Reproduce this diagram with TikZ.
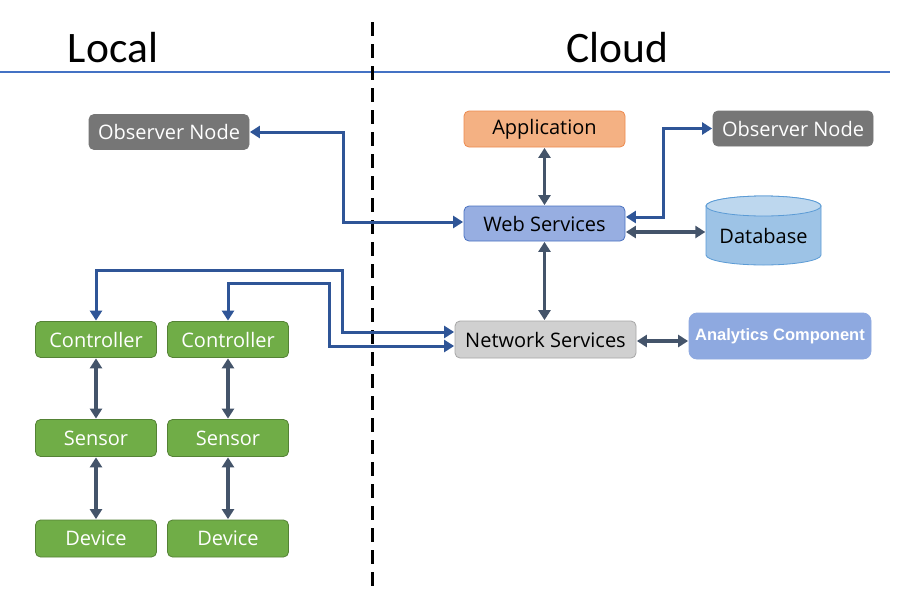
\documentclass[tikz,border=0pt]{standalone}
\usepackage{fontspec}
\setmainfont{Open Sans}
\newfontfamily\hdfont{Carlito}
\newfontfamily\arfont{Liberation Sans}
\usetikzlibrary{arrows.meta,calc}
\definecolor{obsgray}{HTML}{767676}
\definecolor{appfill}{HTML}{F4B183}
\definecolor{appdraw}{HTML}{ED8A4F}
\definecolor{webfill}{HTML}{97AEE1}
\definecolor{webdraw}{HTML}{4A72C0}
\definecolor{netfill}{HTML}{D0D0D0}
\definecolor{netdraw}{HTML}{A6A6A6}
\definecolor{anfill}{HTML}{8EA9E0}
\definecolor{grfill}{HTML}{70AD47}
\definecolor{grdraw}{HTML}{548235}
\definecolor{dbbody}{HTML}{9DC3E6}
\definecolor{dbtop}{HTML}{BDD7EE}
\definecolor{dbdraw}{HTML}{5B9BD5}
\definecolor{darkarr}{HTML}{44546A}
\definecolor{bluearr}{HTML}{2F5597}
\definecolor{topline}{HTML}{4472C4}
\begin{document}
\begin{tikzpicture}[x=1pt,y=-1pt,
  box/.style={rounded corners=5pt, line width=0.8pt, inner sep=0pt, font=\fontsize{20}{24}\selectfont},
  obsbox/.style={box, fill=obsgray, draw=obsgray, text=white, minimum width=160pt, minimum height=35pt},
  grbox/.style={box, fill=grfill, draw=grdraw, text=white, minimum width=121pt, minimum height=36pt},
  darr/.style={draw=darkarr, line width=3.2pt, {Triangle[length=10pt,width=12pt]}-{Triangle[length=10pt,width=12pt]}, shorten <=0.5pt, shorten >=0.5pt},
  barr/.style={draw=bluearr, line width=3pt, {Triangle[length=10pt,width=12pt]}-{Triangle[length=10pt,width=12pt]}, shorten <=0.5pt, shorten >=0.5pt},
  hd/.style={font=\hdfont\fontsize{43.5}{50}\selectfont, anchor=base, inner sep=0pt}
]
\useasboundingbox (0,0) rectangle (900,600);
\fill[white] (0,0) rectangle (900,600);

% headers
\node[hd] (local) at (113,62) {Local};
\node[hd] (cloud) at (617,62) {Cloud};
\draw[topline, line width=1.4pt] (0,72) -- (890,72);
\draw[black, line width=3pt, dash pattern=on 14pt off 8pt] (372,22) -- (372,592);

% database cylinder
\node[minimum width=115pt, minimum height=69pt, inner sep=0pt] (db) at (763.5,230.5) {};
\filldraw[fill=dbbody, draw=dbdraw, line width=0.8pt]
  (706,206) -- (706,255) arc[start angle=180, end angle=0, x radius=57.5, y radius=10]
  -- (821,206) arc[start angle=0, end angle=-180, x radius=57.5, y radius=10] -- cycle;
\filldraw[fill=dbtop, draw=dbdraw, line width=0.8pt] (763.5,206) ellipse[x radius=57.5, y radius=10];
\node[font=\fontsize{20}{24}\selectfont, text=black] (dblabel) at (763.5,236) {Database};

% nodes
\node[obsbox] (obsL) at (169,132) {Observer Node};
\node[obsbox] (obsR) at (793,128.5) {Observer Node};
\node[box, fill=appfill, draw=appdraw, text=black, minimum width=161pt, minimum height=36pt] (app) at (544.5,129) {Application};
\node[box, fill=webfill, draw=webdraw, text=black, minimum width=161pt, minimum height=35pt] (web) at (544.5,223.5) {Web Services};
\node[box, fill=netfill, draw=netdraw, text=black, minimum width=181pt, minimum height=37pt] (net) at (545.5,339.5) {Network Services};
\node[box, rounded corners=8pt, fill=anfill, draw=anfill, text=white, minimum width=182pt, minimum height=46pt, font=\arfont\bfseries\fontsize{16.5}{19}\selectfont] (ana) at (780,336) {Analytics Component};

\node[grbox] (c1) at (96,339.5) {Controller};
\node[grbox] (c2) at (228,339.5) {Controller};
\node[grbox, minimum height=37pt] (s1) at (96,438) {Sensor};
\node[grbox, minimum height=37pt] (s2) at (228,438) {Sensor};
\node[grbox, minimum height=37pt] (d1) at (96,538.5) {Device};
\node[grbox, minimum height=37pt] (d2) at (228,538.5) {Device};

% dark double arrows
\coordinate (wdb) at ($(web.east)+(0,8.5)$);
\draw[darr] (app.south) -- (web.north);
\draw[darr] (web.south) -- (web.south |- net.north);
\draw[darr] (wdb) -- (wdb -| db.west);
\draw[darr] (net.east |- 0,341) -- (ana.west |- 0,341);
\draw[darr] (c1.south) -- (s1.north);
\draw[darr] (c2.south) -- (s2.north);
\draw[darr] (s1.south) -- (d1.north);
\draw[darr] (s2.south) -- (d2.north);

% blue routed arrows
\coordinate (wobs) at ($(web.east)+(0,-6.5)$);
\coordinate (nc1) at ($(net.west)+(0,-7.5)$);
\coordinate (nc2) at ($(net.west)+(0,6.5)$);
\draw[barr] (web.west |- 0,222) -- (343,222) |- (obsL.east);
\draw[barr] (wobs) -- ++(38,0) |- (obsR.west);
\draw[barr] (nc1) -- ++(-112,0) -- ++(0,-62) -| (c1.north);
\draw[barr] (nc2) -- ++(-125,0) -- ++(0,-63) -| (c2.north);
\end{tikzpicture}
\end{document}
